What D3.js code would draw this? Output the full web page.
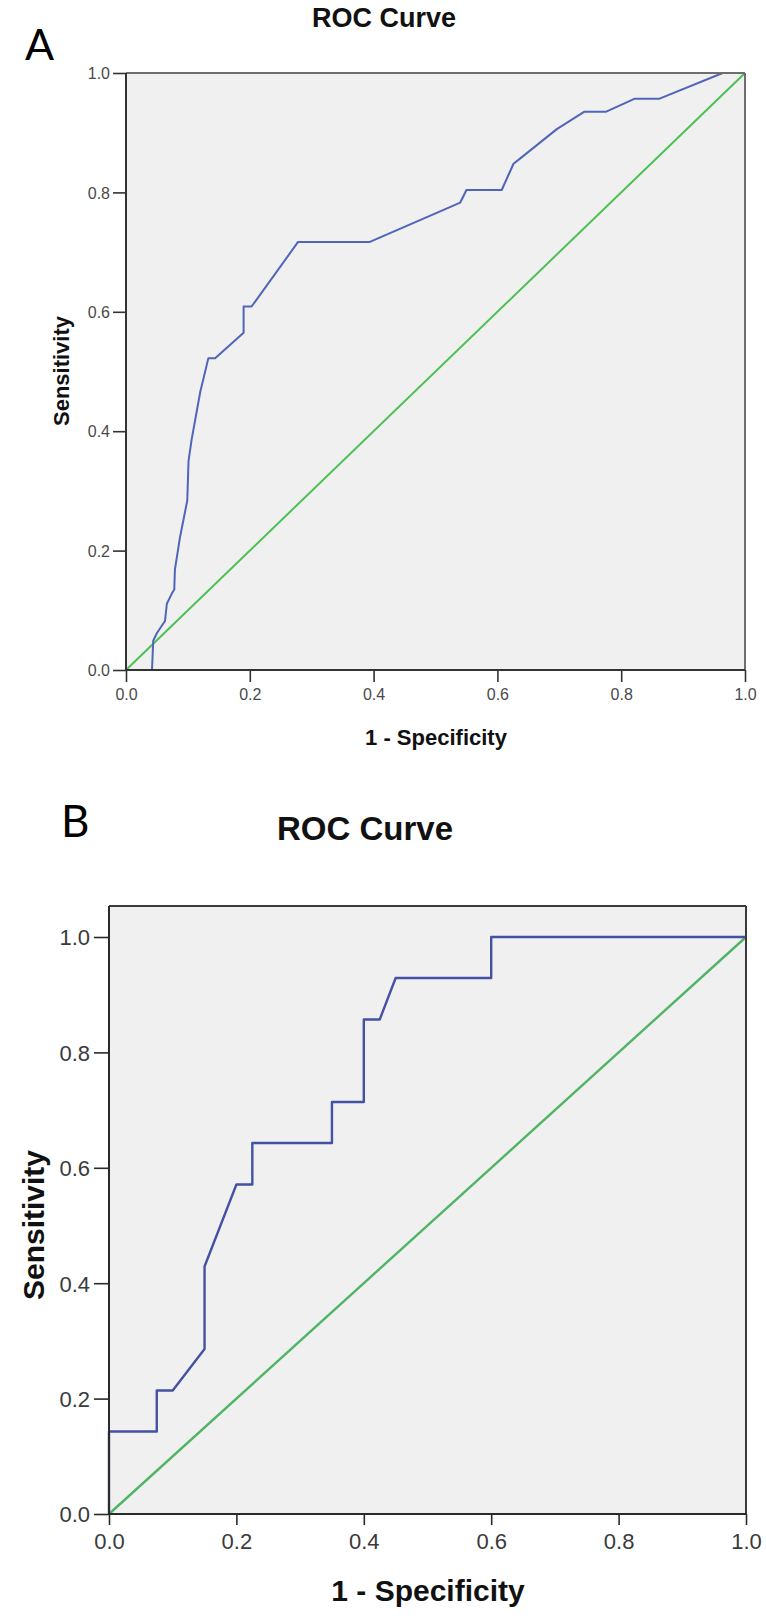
<!DOCTYPE html>
<html>
<head>
<meta charset="utf-8">
<script src="https://cdn.jsdelivr.net/npm/d3@7"></script>
<style>
  html, body { margin: 0; padding: 0; background: #ffffff; }
  svg { display: block; }
</style>
</head>
<body>
<svg id="chart" width="766" height="1621"></svg>
<script>
// ---------- data ----------
const tickValues = [0, 0.2, 0.4, 0.6, 0.8, 1.0];
const tickLabels = ["0.0", "0.2", "0.4", "0.6", "0.8", "1.0"];

// Panel A ROC curve (1 - Specificity, Sensitivity)
const fprA = [0.042, 0.044, 0.050, 0.063, 0.066, 0.074, 0.078, 0.079, 0.087, 0.099, 0.101, 0.106, 0.120, 0.133, 0.144, 0.190, 0.190, 0.203, 0.278, 0.394, 0.540, 0.550, 0.607, 0.626, 0.637, 0.696, 0.740, 0.775, 0.822, 0.862, 0.964, 1.000];
const tprA = [0.000, 0.049, 0.062, 0.082, 0.111, 0.128, 0.135, 0.168, 0.221, 0.284, 0.350, 0.386, 0.466, 0.522, 0.522, 0.565, 0.609, 0.609, 0.717, 0.717, 0.783, 0.804, 0.804, 0.848, 0.857, 0.906, 0.935, 0.935, 0.957, 0.957, 1.000, 1.000];

// Panel B ROC curve
const fprB = [0.000, 0.000, 0.075, 0.075, 0.100, 0.150, 0.150, 0.200, 0.225, 0.225, 0.350, 0.350, 0.400, 0.400, 0.425, 0.450, 0.600, 0.600, 1.000];
const tprB = [0.000, 0.143, 0.143, 0.214, 0.214, 0.286, 0.429, 0.571, 0.571, 0.643, 0.643, 0.714, 0.714, 0.857, 0.857, 0.929, 0.929, 1.000, 1.000];

// Reference line
const refX = [0, 1];
const refY = [0, 1];

const titleText = "ROC Curve";
const xTitle = "1 - Specificity";
const yTitle = "Sensitivity";

// ---------- layout ----------
const panels = [
  {
    letter: "A", letterX: 25, letterY: 60, letterSize: 43,
    x0: 126, x1: 745, yTop: 73, yZero: 670, yOne: 73, yMaxFrame: 1.0,
    titleX: 384, titleY: 27, titleSize: 27,
    tickSize: 16, tickColor: "#4a4a4a", yTickLen: 13, xTickLen: 12,
    yLabelRight: 110, xLabelBaseline: 700,
    axisTitleSize: 22, xTitleX: 436, xTitleY: 745, yTitleX: 69, yTitleY: 371,
    frameColor: "#6e6e6e", axisColor: "#333", frameWidth: 2,
    blue: "#5064b9", green: "#4cc153", lineWidth: 2,
    fpr: fprA, tpr: tprA
  },
  {
    letter: "B", letterX: 61, letterY: 837, letterSize: 44,
    x0: 109, x1: 746, yTop: 906, yZero: 1514, yOne: 937,
    titleX: 365, titleY: 840, titleSize: 33,
    tickSize: 22, tickColor: "#3a3a3a", yTickLen: 15, xTickLen: 11,
    yLabelRight: 90, xLabelBaseline: 1549,
    axisTitleSize: 30, xTitleX: 428, xTitleY: 1601, yTitleX: 44, yTitleY: 1225,
    frameColor: "#3a3a3a", axisColor: "#2a2a2a", frameWidth: 2,
    blue: "#4452a3", green: "#4fb565", lineWidth: 2.4,
    fpr: fprB, tpr: tprB
  }
];

const svg = d3.select("#chart");
const sansFont = "'Liberation Sans', Arial, sans-serif";

panels.forEach(p => {
  const g = svg.append("g");
  const x = d3.scaleLinear().domain([0, 1]).range([p.x0, p.x1]);
  const y = d3.scaleLinear().domain([0, 1]).range([p.yZero, p.yOne]);
  const yMax = y.invert(p.yTop);

  // panel letter
  g.append("text")
    .attr("x", p.letterX).attr("y", p.letterY)
    .attr("font-family", "Lato, 'Open Sans', sans-serif")
    .attr("font-size", p.letterSize)
    .attr("fill", "#000")
    .text(p.letter);

  // title
  g.append("text")
    .attr("x", p.titleX).attr("y", p.titleY)
    .attr("text-anchor", "middle")
    .attr("font-family", sansFont)
    .attr("font-weight", "bold")
    .attr("font-size", p.titleSize)
    .attr("fill", "#111")
    .text(titleText);

  // plot background
  g.append("rect")
    .attr("x", x(0)).attr("y", y(yMax))
    .attr("width", x(1) - x(0)).attr("height", y(0) - y(yMax))
    .attr("fill", "#f0f0f0");

  // reference diagonal
  const line = d3.line().x(d => x(d[0])).y(d => y(d[1]));
  g.append("path")
    .datum(d3.zip(refX, refY))
    .attr("d", line)
    .attr("fill", "none")
    .attr("stroke", p.green)
    .attr("stroke-width", p.lineWidth);

  // ROC curve
  g.append("path")
    .datum(d3.zip(p.fpr, p.tpr))
    .attr("d", line)
    .attr("fill", "none")
    .attr("stroke", p.blue)
    .attr("stroke-width", p.lineWidth)
    .attr("stroke-linejoin", "round");

  // frame: top and right
  g.append("line")
    .attr("x1", x(0)).attr("x2", x(1))
    .attr("y1", y(yMax)).attr("y2", y(yMax))
    .attr("stroke", p.frameColor).attr("stroke-width", p.frameWidth);
  g.append("line")
    .attr("x1", x(1)).attr("x2", x(1))
    .attr("y1", y(yMax)).attr("y2", y(0))
    .attr("stroke", p.frameColor).attr("stroke-width", p.frameWidth);

  // y axis
  const yAxis = d3.axisLeft(y)
    .tickValues(tickValues)
    .tickFormat((d, i) => tickLabels[i])
    .tickSize(p.yTickLen)
    .tickPadding(3);
  const gy = g.append("g")
    .attr("transform", `translate(${x(0)},0)`)
    .call(yAxis);
  gy.select(".domain")
    .attr("d", `M0,${y(yMax)}V${y(0)}`)
    .attr("stroke", p.axisColor).attr("stroke-width", p.frameWidth);
  gy.selectAll(".tick line").attr("stroke", p.axisColor).attr("stroke-width", 1.6);
  gy.selectAll(".tick text")
    .attr("x", -(x(0) - p.yLabelRight))
    .attr("dy", "0.36em")
    .attr("font-family", sansFont)
    .attr("font-size", p.tickSize)
    .attr("fill", p.tickColor);

  // x axis
  const xAxis = d3.axisBottom(x)
    .tickValues(tickValues)
    .tickFormat((d, i) => tickLabels[i])
    .tickSize(p.xTickLen)
    .tickPadding(3);
  const gx = g.append("g")
    .attr("transform", `translate(0,${y(0)})`)
    .call(xAxis);
  gx.select(".domain")
    .attr("d", `M${x(0)},0H${x(1)}`)
    .attr("stroke", p.axisColor).attr("stroke-width", p.frameWidth);
  gx.selectAll(".tick line").attr("stroke", p.axisColor).attr("stroke-width", 1.6);
  gx.selectAll(".tick text")
    .attr("y", p.xLabelBaseline - y(0))
    .attr("dy", 0)
    .attr("font-family", sansFont)
    .attr("font-size", p.tickSize)
    .attr("fill", p.tickColor);

  // axis titles
  g.append("text")
    .attr("x", p.xTitleX).attr("y", p.xTitleY)
    .attr("text-anchor", "middle")
    .attr("font-family", sansFont)
    .attr("font-weight", "bold")
    .attr("font-size", p.axisTitleSize)
    .attr("fill", "#111")
    .text(xTitle);

  g.append("text")
    .attr("transform", `translate(${p.yTitleX},${p.yTitleY}) rotate(-90)`)
    .attr("text-anchor", "middle")
    .attr("font-family", sansFont)
    .attr("font-weight", "bold")
    .attr("font-size", p.axisTitleSize)
    .attr("fill", "#111")
    .text(yTitle);
});
</script>
</body>
</html>
